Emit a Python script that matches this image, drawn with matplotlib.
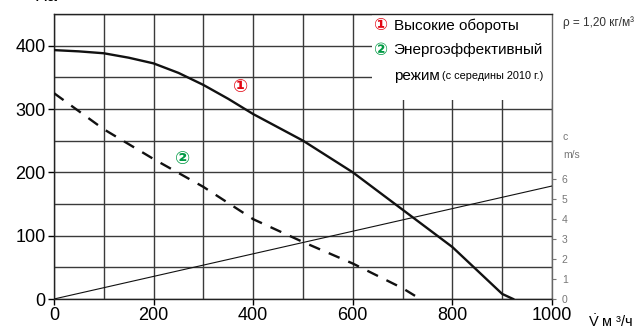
import matplotlib
matplotlib.use('Agg')
import matplotlib.pyplot as plt
from matplotlib.patches import Rectangle
from matplotlib.ticker import MultipleLocator

# fan curves (V in m3/h, p in Pa)
v_high = [0, 50, 100, 150, 200, 250, 300, 350, 400, 500, 600, 700, 800, 900, 922]
p_high = [393, 391, 388, 381, 372, 357, 338, 316, 292, 250, 200, 141, 82, 8, 0]

v_eco = [0, 100, 200, 300, 400, 500, 600, 700, 725]
p_eco = [325, 268, 221, 177, 126, 90, 56, 17, 5]

# air velocity line (right axis, m/s)
v_speed = [0, 1000]
speed = [0, 5.65]

x_ticks = [0, 200, 400, 600, 800, 1000]
y_ticks = [0, 100, 200, 300, 400]
speed_ticks = [0, 1, 2, 3, 4, 5, 6]

legend_1 = 'Высокие обороты'
legend_2a = 'Энергоэффективный'
legend_2b = 'режим'
legend_2c = '(с середины 2010 г.)'

red = '#e30613'
green = '#009a44'

plt.rcParams['font.family'] = ['Liberation Sans', 'DejaVu Sans']
plt.rcParams['mathtext.fontset'] = 'custom'
plt.rcParams['mathtext.rm'] = 'Liberation Sans'

fig = plt.figure(figsize=(6.38, 3.31), dpi=100)
ax = fig.add_axes([54 / 638, 32 / 331, 498 / 638, 285 / 331])

ax.set_xlim(0, 1000)
ax.set_ylim(0, 450)
ax.set_xticks(x_ticks)
ax.xaxis.set_minor_locator(MultipleLocator(100))
ax.set_yticks(y_ticks)
ax.yaxis.set_minor_locator(MultipleLocator(50))
ax.grid(which='both', color='#3a3a3a', linewidth=1.0)
ax.set_axisbelow(True)
ax.tick_params(which='major', direction='out', length=4, width=1, labelsize=13, pad=2)
ax.tick_params(which='minor', length=0)
for s in ax.spines.values():
    s.set_color('#222222')
    s.set_linewidth(1.0)
ax.spines['right'].set_color('#666666')

# white area behind the legend text
ax.add_patch(Rectangle((638, 314), 362, 136, facecolor='white', edgecolor='none', zorder=1))

ax.plot(v_high, p_high, color='#111111', linewidth=1.7, zorder=3)
ax.plot(v_eco, p_eco, color='#111111', linewidth=1.7, dashes=(5, 4), zorder=3)

ax.text(374, 335, '①', color=red, fontsize=13, fontweight='bold', ha='center', va='center',
        family=['DejaVu Sans'], zorder=4)
ax.text(258, 221, '②', color=green, fontsize=13, fontweight='bold', ha='center', va='center',
        family=['DejaVu Sans'], zorder=4)

# legend
ax.text(654, 432, '①', color=red, fontsize=12, fontweight='bold', ha='center', va='center',
        family=['DejaVu Sans'], zorder=4)
ax.text(682, 432, legend_1, fontsize=11, ha='left', va='center', zorder=4)
ax.text(654, 393, '②', color=green, fontsize=12, fontweight='bold', ha='center', va='center',
        family=['DejaVu Sans'], zorder=4)
ax.text(682, 393, legend_2a, fontsize=11, ha='left', va='center', zorder=4)
t_mode = ax.text(682, 352, legend_2b, fontsize=11, ha='left', va='center', zorder=4)
ax.annotate(legend_2c, xy=(1, 0.5), xycoords=t_mode, xytext=(2, 0),
            textcoords='offset points', fontsize=7.8, ha='left', va='center', zorder=4)

# velocity axis
ax2 = ax.twinx()
ax2.set_ylim(0, 14.25)
ax2.set_yticks(speed_ticks)
ax2.plot(v_speed, speed, color='#111111', linewidth=0.8)
ax2.tick_params(direction='out', length=3, width=0.8, colors='#777777', labelsize=7.5, pad=4)
for s in ax2.spines.values():
    s.set_visible(False)
ax2.text(1022, 8.1, 'c', fontsize=7.5, color='#777777', ha='left', va='center')
ax2.text(1022, 7.2, 'm/s', fontsize=7.5, color='#777777', ha='left', va='center')

fig.text(35 / 638, 1 - 1 / 331, 'Па', fontsize=13, ha='left', va='baseline')
fig.text(563 / 638, 1 - 23 / 331, 'ρ = 1,20 кг/м³', fontsize=8.5, ha='left', va='center',
         color='#333333')
fig.text(588 / 638, 1 - 322 / 331, r'$\dot{\mathrm{V}}$ м ³/ч', fontsize=10.5, ha='left',
         va='center')

fig.savefig('out.png', dpi=100)
